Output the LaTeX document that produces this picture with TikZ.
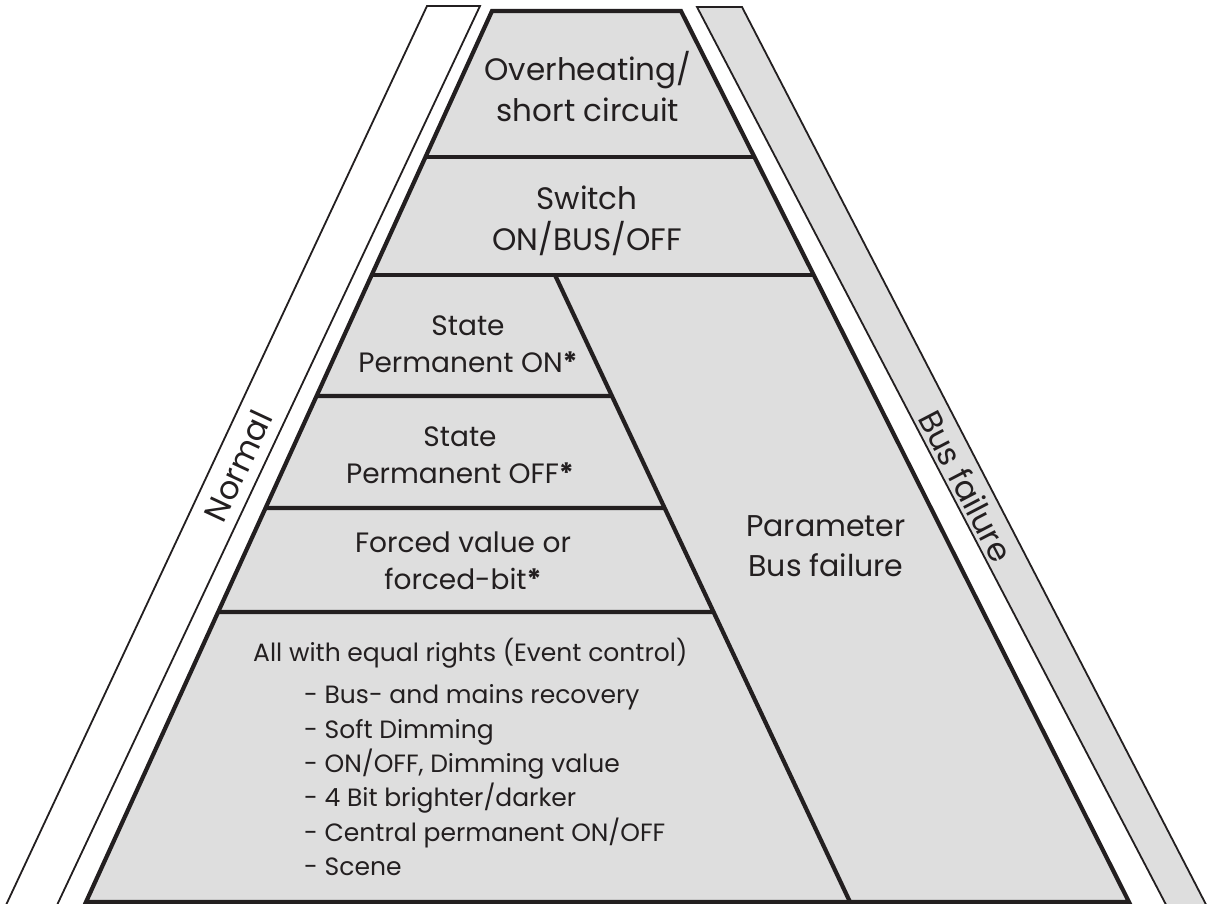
\documentclass[tikz,border=0pt]{standalone}
\usepackage{fontspec}
\setmainfont{Poppins}
\usetikzlibrary{calc}
\definecolor{ink}{RGB}{35,31,32}
\definecolor{tierfill}{RGB}{222,222,222}

\begin{document}
\begin{tikzpicture}[x=1pt, y=-1pt, line join=miter, color=ink,
    tier/.style={line width=4.2pt},
    band/.style={line width=1.8pt},
    big/.style={font=\fontsize{31}{41}\selectfont, align=center, inner sep=0pt},
    mid/.style={font=\fontsize{28}{37}\selectfont, align=center, inner sep=0pt},
    small/.style={font=\fontsize{25}{34.3}\selectfont, align=left, inner sep=0pt},
    side/.style={font=\fontsize{32}{36}\selectfont, inner sep=0pt}]
    \useasboundingbox (0,0) rectangle (1207,904);

    \coordinate (tl) at (492,11);
    \coordinate (tr) at (681,11);
    \coordinate (br) at (1129,902);
    \coordinate (bl) at (86,902);
    \coordinate (it) at (555,275);
    \coordinate (ib) at (850,902);

    \draw[band] (-1,920) -- (427,6) -- (480,6) -- (50,920);
    \draw[band, fill=tierfill] (1174,920) -- (697,7) -- (742,7) -- (1214,920);

    \draw[tier, fill=tierfill] (tl) -- (tr) -- (br) -- (bl) -- cycle;
    \foreach \y in {157,275} {
        \pgfmathsetmacro\t{(\y-11)/891}
        \draw[tier] ($(tl)!\t!(bl)$) -- ($(tr)!\t!(br)$);
    }
    \foreach \y in {396,508,612} {
        \pgfmathsetmacro\t{(\y-11)/891}
        \pgfmathsetmacro\s{(\y-275)/627}
        \draw[tier] ($(tl)!\t!(bl)$) -- ($(it)!\s!(ib)$);
    }
    \draw[tier] (it) -- (ib);

    \node[big] (heat)    at (588,87)  {Overheating/\\short circuit};
    \node[big] (switch)  at (587,221) {Switch\\ON/BUS/OFF};
    \node[mid] (permon)  at (468,344) {State\\Permanent ON\textbf{*}};
    \node[mid] (permoff) at (460,455) {State\\Permanent OFF\textbf{*}};
    \node[mid] (forced)  at (463,561) {Forced value or\\forced-bit\textbf{*}};
    \node[mid, font=\fontsize{30}{40}\selectfont] (param) at (826,546) {Parameter\\Bus failure};
    \node[small, anchor=north west] (events) at (253,638)
        {All with equal rights (Event control)\\[8pt]
         \hspace*{51pt}- Bus- and mains recovery\\
         \hspace*{51pt}- Soft Dimming\\
         \hspace*{51pt}- ON/OFF, Dimming value\\
         \hspace*{51pt}- 4 Bit brighter/darker\\
         \hspace*{51pt}- Central permanent ON/OFF\\
         \hspace*{51pt}- Scene};

    \node[side, rotate=65]    (normal)  at (238,466) {Normal};
    \node[side, rotate=-62.5] (busfail) at (966,486) {Bus failure};
\end{tikzpicture}
\end{document}
